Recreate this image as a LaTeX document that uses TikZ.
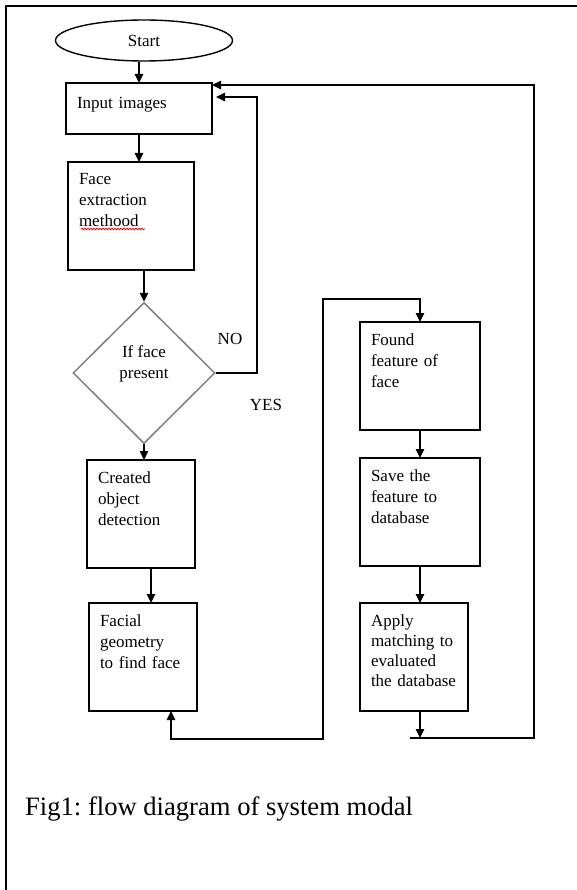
\documentclass[tikz,border=0pt]{standalone}
\usepackage{fontspec}
\setmainfont{Liberation Serif}
\usetikzlibrary{shapes.geometric,arrows.meta,decorations.pathmorphing}
\frenchspacing

\begin{document}
\begin{tikzpicture}[x=1pt, y=-1pt,
    >={Triangle[length=9pt,width=8.5pt]},
    every node/.style={font=\fontsize{17}{21}\selectfont},
    stepbox/.style={draw, line width=1.6pt, anchor=north west, align=left, outer sep=0pt,
        inner xsep=11pt, inner ysep=9pt, text height=14pt, text depth=76pt},
    link/.style={line width=1.4pt}]
    \useasboundingbox (0,0) rectangle (577,890);
    \draw[line width=2pt] (600,6) -- (6,6) -- (6,900);

    \node[draw, ellipse, line width=1.4pt, minimum width=177pt, minimum height=41pt, inner sep=0pt] (start) at (144,40.5) {Start};
    \node[stepbox, text width=124pt, text height=17pt, text depth=16pt] (input) at (66,83) {Input images};
    \node[stepbox, text width=104pt] (extract) at (68,162) {Face\\extraction\\methood};
    \node[draw=black!50, line width=1.5pt, diamond, minimum width=142pt, minimum height=141pt, inner sep=0pt,
        align=center, text height=33pt, text depth=23pt] (dec) at (144,373) {If face\\present};
    \node[stepbox, text width=86pt] (created) at (87,460) {Created\\object\\detection};
    \node[stepbox, text width=86pt] (facial) at (89,603) {Facial\\geometry\\to find face};
    \node[stepbox, text width=98pt] (found) at (360,322) {Found\\feature of\\face};
    \node[stepbox, text width=98pt] (save) at (360,458) {Save the\\feature to\\database};
    \node[stepbox, text width=86pt, font=\fontsize{17}{20}\selectfont] (apply) at (360,603) {Apply\\matching to\\evaluated\\the database};

    \node (nolabel) at (230,339) {NO};
    \node (yeslabel) at (266,405) {YES};
    \node[font=\fontsize{26.6}{30}\selectfont, anchor=base west, inner sep=0pt] (caption) at (25,815) {Fig1: flow diagram of system modal};

    \draw[red, line width=0.8pt, decorate, decoration={snake, amplitude=0.8pt, segment length=3pt}]
        ([shift={(13pt,-67pt)}]extract.north west) -- ([shift={(77pt,-67pt)}]extract.north west);

    \coordinate (nobend) at (257,97);
    \coordinate (leftbot) at (323,739);
    \coordinate (lefttop) at (323,299);
    \coordinate (rightbot) at (534,738);

    \draw[link, ->] (input.north |- start.south) -- (input.north);
    \draw[link, ->] (input.south) -- (input.south |- extract.north);
    \draw[link, ->] (extract.south -| dec.north) -- (dec.north);
    \draw[link, ->] (dec.south) -- (dec.south |- created.north);
    \draw[link, ->] ([xshift=10pt]created.south) -- ([xshift=10pt]created.south |- facial.north);
    \draw[link, ->] (dec.east) -| (nobend) -- ([xshift=4pt]nobend -| input.east);
    \draw[link, <->] ([xshift=28pt]facial.south) |- (leftbot) -- (lefttop) -| (found.north);
    \draw[link, ->] (found.south) -- (found.south |- save.north);
    \draw[link, ->] (save.south) -- (save.south |- apply.north);
    \draw[link, ->] ([xshift=6pt]apply.south) -- ([xshift=6pt]apply.south |- rightbot);
    \draw[link, ->] ([xshift=-4pt]apply.south |- rightbot) -- (rightbot) |- ([yshift=-2pt]input.north east);
\end{tikzpicture}
\end{document}
